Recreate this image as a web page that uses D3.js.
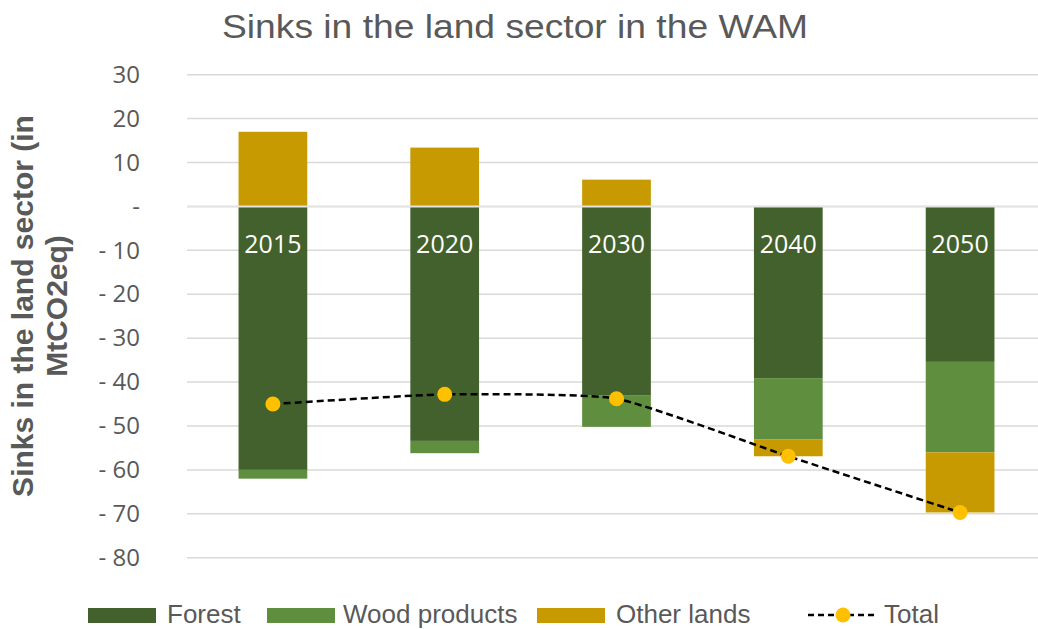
<!DOCTYPE html>
<html>
<head>
<meta charset="utf-8">
<script src="https://cdn.jsdelivr.net/npm/d3@7"></script>
<style>
  body { margin: 0; background: #fff; }
</style>
</head>
<body>
<div id="chart"></div>
<script>
const years = ["2015", "2020", "2030", "2040", "2050"];
const forest = [-60, -53.4, -43.1, -39.1, -35.4];
const woodProducts = [-2, -2.8, -7.1, -14, -20.6];
const otherLands = [17, 13.4, 6.1, -3.8, -13.7];
const total = [-45, -42.8, -43.8, -56.9, -69.7];
const yTicks = [30, 20, 10, 0, -10, -20, -30, -40, -50, -60, -70, -80];

const width = 1038;
const height = 629;
const textGrey = "#595959";

const series = [
  { key: "Forest", values: forest, color: "#43612c" },
  { key: "Wood products", values: woodProducts, color: "#5e8e3e" },
  { key: "Other lands", values: otherLands, color: "#c69a00" }
];

const rows = years.map((yr, i) => {
  const r = { year: yr };
  series.forEach((s) => (r[s.key] = s.values[i]));
  return r;
});

const svg = d3
  .select("#chart")
  .append("svg")
  .attr("width", width)
  .attr("height", height);

const x = d3
  .scaleBand()
  .domain(years)
  .range([187, 1046])
  .paddingInner(0.6)
  .paddingOuter(0.3);

const y = d3.scaleLinear().domain([-80, 30]).range([557.7, 74.7]);

// gridlines
svg
  .append("g")
  .selectAll("line")
  .data(yTicks)
  .enter()
  .append("line")
  .attr("x1", 187)
  .attr("x2", 1046)
  .attr("y1", (d) => y(d))
  .attr("y2", (d) => y(d))
  .attr("stroke", "#d9d9d9")
  .attr("stroke-width", 1.5);

// y axis labels
const fmt = (d) => (d === 0 ? "-" : d < 0 ? "- " + Math.abs(d) : String(d));
const yAxis = svg
  .append("g")
  .attr("transform", "translate(140,0)")
  .call(d3.axisLeft(y).tickValues(yTicks).tickFormat(fmt).tickSize(0).tickPadding(0));
yAxis.select(".domain").remove();
yAxis
  .selectAll("text")
  .attr("fill", textGrey)
  .style("font-family", "'Open Sans', sans-serif")
  .style("font-size", "24px");

// stacked bars
const stack = d3
  .stack()
  .keys(series.map((s) => s.key))
  .offset(d3.stackOffsetDiverging);
const stacked = stack(rows);

svg
  .append("g")
  .selectAll("g")
  .data(stacked)
  .enter()
  .append("g")
  .attr("fill", (d, i) => series[i].color)
  .selectAll("rect")
  .data((d) => d)
  .enter()
  .append("rect")
  .attr("x", (d) => x(d.data.year))
  .attr("y", (d) => y(Math.max(d[0], d[1])))
  .attr("height", (d) => Math.abs(y(d[0]) - y(d[1])))
  .attr("width", x.bandwidth());

// zero line drawn over the bars
svg
  .append("line")
  .attr("x1", 187)
  .attr("x2", 1046)
  .attr("y1", y(0))
  .attr("y2", y(0))
  .attr("stroke", "#e4e4e4")
  .attr("stroke-width", 2);

// year labels inside bars
svg
  .append("g")
  .selectAll("text")
  .data(years)
  .enter()
  .append("text")
  .attr("x", (d) => x(d) + x.bandwidth() / 2)
  .attr("y", 253)
  .attr("text-anchor", "middle")
  .attr("fill", "#fff")
  .style("font-family", "'Open Sans', sans-serif")
  .style("font-size", "25px")
  .text((d) => d);

// total line (smoothed like the spreadsheet original)
const line = d3
  .line()
  .x((d, i) => x(years[i]) + x.bandwidth() / 2)
  .y((d) => y(d))
  .curve(d3.curveCardinal.tension(0.5));

svg
  .append("path")
  .datum(total)
  .attr("d", line)
  .attr("fill", "none")
  .attr("stroke", "#000")
  .attr("stroke-width", 2.5)
  .attr("stroke-dasharray", "7,4");

svg
  .append("g")
  .selectAll("circle")
  .data(total)
  .enter()
  .append("circle")
  .attr("cx", (d, i) => x(years[i]) + x.bandwidth() / 2)
  .attr("cy", (d) => y(d))
  .attr("r", 7.5)
  .attr("fill", "#ffc000");

// title
svg
  .append("text")
  .attr("x", 222)
  .attr("y", 38)
  .attr("textLength", 586)
  .attr("lengthAdjust", "spacingAndGlyphs")
  .attr("fill", textGrey)
  .style("font-family", "'Liberation Sans', Arial, sans-serif")
  .style("font-size", "34px")
  .text("Sinks in the land sector in the WAM");

// y axis title
const yTitle = svg
  .append("text")
  .attr("transform", "translate(0,306) rotate(-90)")
  .attr("text-anchor", "middle")
  .attr("fill", textGrey)
  .style("font-family", "'Liberation Sans', Arial, sans-serif")
  .style("font-size", "30px")
  .style("font-weight", "bold");
yTitle.append("tspan").attr("x", 0).attr("y", 33).text("Sinks in the land sector (in");
yTitle.append("tspan").attr("x", 0).attr("y", 67).text("MtCO2eq)");

// legend
const legendItems = [
  { label: "Forest", color: series[0].color, sx: 88, tx: 167 },
  { label: "Wood products", color: series[1].color, sx: 267, tx: 343 },
  { label: "Other lands", color: series[2].color, sx: 537, tx: 616 }
];
const legend = svg.append("g");
legendItems.forEach((d) => {
  legend
    .append("rect")
    .attr("x", d.sx)
    .attr("y", 608)
    .attr("width", 68)
    .attr("height", 15)
    .attr("fill", d.color);
  legend
    .append("text")
    .attr("x", d.tx)
    .attr("y", 623)
    .attr("fill", textGrey)
    .style("font-family", "'Liberation Sans', Arial, sans-serif")
    .style("font-size", "26px")
    .text(d.label);
});
legend
  .append("line")
  .attr("x1", 808)
  .attr("x2", 877)
  .attr("y1", 615)
  .attr("y2", 615)
  .attr("stroke", "#000")
  .attr("stroke-width", 2.5)
  .attr("stroke-dasharray", "6,4");
legend
  .append("circle")
  .attr("cx", 843)
  .attr("cy", 615)
  .attr("r", 7.5)
  .attr("fill", "#ffc000");
legend
  .append("text")
  .attr("x", 884)
  .attr("y", 623)
  .attr("fill", textGrey)
  .style("font-family", "'Liberation Sans', Arial, sans-serif")
  .style("font-size", "26px")
  .text("Total");
</script>
</body>
</html>
